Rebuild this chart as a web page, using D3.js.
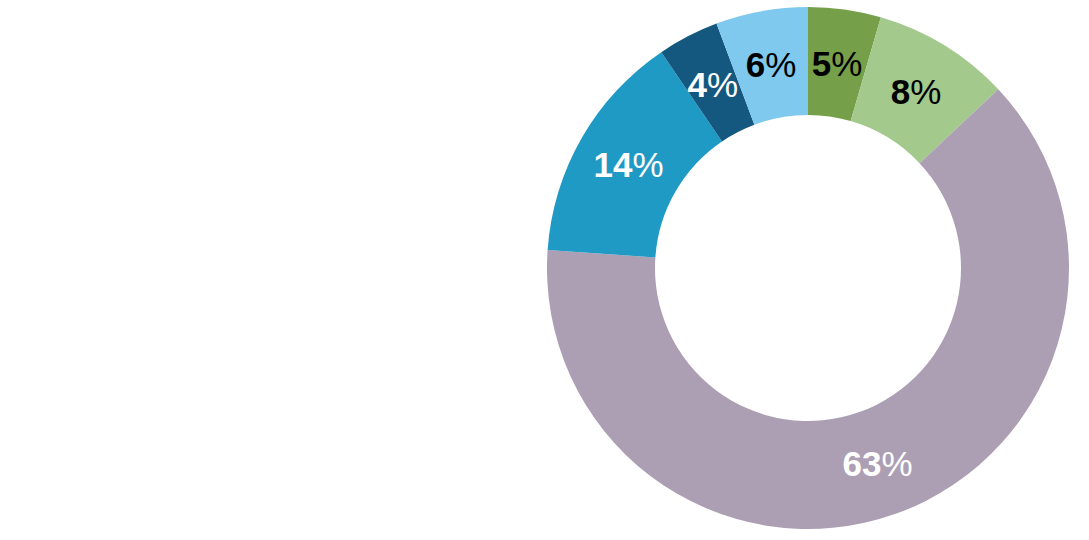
<!DOCTYPE html>
<html>
<head>
<meta charset="utf-8">
<script src="https://cdn.jsdelivr.net/npm/d3@7"></script>
<style>
  body { margin: 0; background: #fff; }
  svg { display: block; }
</style>
</head>
<body>
<script>
// slice values, clockwise from 12 o'clock
const labels = ["5%", "8%", "63%", "14%", "4%", "6%"];
const values = [4.5, 8.5, 63.1, 14.4, 3.8, 5.7];
const colors = ["#759f49", "#a3c98c", "#ad9fb3", "#1f9ac4", "#14587f", "#7fc9ee"];
const textColors = ["#000", "#000", "#fff", "#fff", "#fff", "#000"];

const width = 1089, height = 540;
const cx = 808, cy = 268;
const outerR = 261, innerR = 153;

const svg = d3.select("body").append("svg")
  .attr("width", width)
  .attr("height", height);

const g = svg.append("g")
  .attr("transform", `translate(${cx},${cy})`);

const pie = d3.pie().sort(null).value(d => d)(values);
const arc = d3.arc().innerRadius(innerR).outerRadius(outerR);

g.selectAll("path")
  .data(pie)
  .enter().append("path")
  .attr("d", arc)
  .attr("fill", (d, i) => colors[i]);

// labels sit on the arc centroid; digits bold, % sign regular
const txt = g.selectAll("text")
  .data(pie)
  .enter().append("text")
  .attr("transform", d => "translate(" + arc.centroid(d) + ")")
  .attr("text-anchor", "middle")
  .attr("dy", "0.36em")
  .attr("font-family", "Liberation Sans, Arial, sans-serif")
  .attr("font-size", "35px")
  .attr("fill", (d, i) => textColors[i]);

txt.append("tspan")
  .attr("font-weight", "bold")
  .text((d, i) => labels[i].replace("%", ""));
txt.append("tspan")
  .text("%");
</script>
</body>
</html>
